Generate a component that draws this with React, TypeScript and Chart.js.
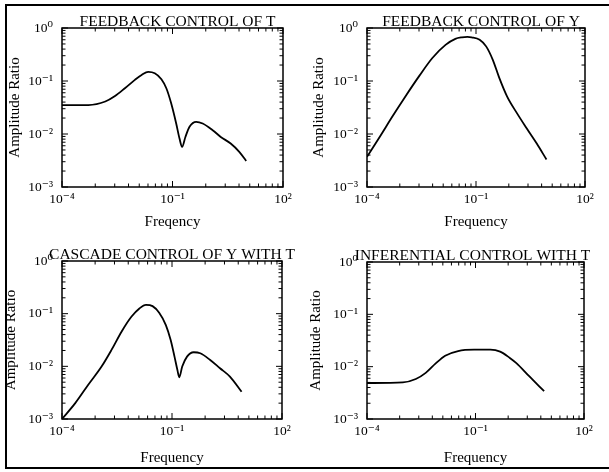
import React, { useEffect, useRef } from "react";
import { Chart, registerables } from "chart.js";

Chart.register(...registerables);

// ---- axis tick labels ----
const xTickValues = [1e-4, 1e-1, 1e2];
const xTickLabels = ["10⁻⁴", "10⁻¹", "10²"];
const yTickValues = [1e-3, 1e-2, 1e-1, 1];
const yTickLabels = ["10⁻³", "10⁻²", "10⁻¹", "10⁰"];

// ---- panel titles ----
const panelTitles = [
  "FEEDBACK CONTROL OF T",
  "FEEDBACK CONTROL OF Y",
  "CASCADE CONTROL OF Y WITH T",
  "INFERENTIAL CONTROL WITH T",
];
const xAxisTitles = ["Freqency", "Frequency", "Frequency", "Frequency"];
const yAxisTitle = "Amplitude Ratio";

// ---- series ----
const fbTFreq = [1e-4, 5.2e-4, 1.5e-3, 2.75e-3, 5.1e-3, 9.5e-3, 0.0145, 0.022, 0.033, 0.05, 0.068, 0.092, 0.126, 0.155, 0.182, 0.224, 0.29, 0.44, 0.66, 1.23, 2.04, 3.8, 6.5, 10];
const fbTAmp = [0.0352, 0.0352, 0.041, 0.052, 0.073, 0.105, 0.13, 0.149, 0.14, 0.108, 0.073, 0.038, 0.0158, 0.0082, 0.0057, 0.0088, 0.0137, 0.017, 0.0158, 0.0118, 0.0088, 0.0066, 0.0046, 0.0031];

const fbYFreq = [1e-4, 2.3e-4, 5.2e-4, 1.2e-3, 2.75e-3, 6.3e-3, 0.0145, 0.027, 0.041, 0.058, 0.076, 0.126, 0.19, 0.29, 0.44, 0.72, 1.35, 2.5, 4.7, 8.7];
const fbYAmp = [0.0037, 0.0091, 0.0223, 0.054, 0.125, 0.272, 0.48, 0.625, 0.668, 0.682, 0.668, 0.6, 0.45, 0.251, 0.113, 0.0507, 0.0245, 0.0127, 0.0066, 0.0033];

const cascFreq = [1e-4, 2.3e-4, 5.2e-4, 1.2e-3, 2.24e-3, 4.2e-3, 7.8e-3, 0.0129, 0.0195, 0.0295, 0.0447, 0.068, 0.092, 0.117, 0.14, 0.158, 0.19, 0.257, 0.39, 0.59, 1.1, 2.04, 3.8, 7.9];
const cascAmp = [0.001, 0.002, 0.00447, 0.0099, 0.0205, 0.0455, 0.0873, 0.1256, 0.147, 0.139, 0.104, 0.0608, 0.0316, 0.0153, 0.0086, 0.0062, 0.0099, 0.0153, 0.0185, 0.0177, 0.0132, 0.0092, 0.0064, 0.0033];

const infFreq = [1e-4, 9.8e-4, 2.24e-3, 4.2e-3, 7.8e-3, 0.0145, 0.033, 0.092, 0.257, 0.48, 0.89, 1.35, 3.1, 7.9];
const infAmp = [0.00487, 0.005, 0.0058, 0.0076, 0.0114, 0.0162, 0.0199, 0.0211, 0.0211, 0.0194, 0.0147, 0.0117, 0.0065, 0.0034];

const seriesFreq = [fbTFreq, fbYFreq, cascFreq, infFreq];
const seriesAmp = [fbTAmp, fbYAmp, cascAmp, infAmp];

const SERIF = "'Liberation Serif', 'DejaVu Serif', 'Times New Roman', serif";

// layout of the four panels (page pixels)
const panelLayout = [
  { cl: 0, ct: 0, cw: 305, ch: 236, l: 62, t: 28, r: 283, b: 187, ytx: 15, tdx: 5 },
  { cl: 305, ct: 0, cw: 304, ch: 236, l: 367, t: 28, r: 585, b: 187, ytx: 319, tdx: 5 },
  { cl: 0, ct: 236, cw: 305, ch: 236, l: 62, t: 261, r: 282, b: 419, ytx: 11, tdx: 0 },
  { cl: 305, ct: 236, cw: 304, ch: 236, l: 367, t: 262, r: 584, b: 419, ytx: 316, tdx: -3 },
];

function makeDecor(title: string, tdx: number) {
  return {
    id: "decor" + title.replace(/\s/g, ""),
    afterDraw(chart: any) {
      const { ctx, chartArea } = chart;
      const { left, right, top, bottom } = chartArea;
      const xs = chart.scales.x;
      const ys = chart.scales.y;
      ctx.save();
      ctx.strokeStyle = "#000";
      ctx.lineWidth = 1;
      ctx.beginPath();
      const hTick = (v: number, len: number) => {
        const py = ys.getPixelForValue(v);
        ctx.moveTo(left, py);
        ctx.lineTo(left + len, py);
        ctx.moveTo(right, py);
        ctx.lineTo(right - len, py);
      };
      const vTick = (v: number, len: number) => {
        const px = xs.getPixelForValue(v);
        ctx.moveTo(px, bottom);
        ctx.lineTo(px, bottom - len);
        ctx.moveTo(px, top);
        ctx.lineTo(px, top + len);
      };
      for (let d = -3; d <= 0; d++) {
        hTick(Math.pow(10, d), 6);
        if (d < 0) {
          for (let k = 2; k <= 9; k++) hTick(k * Math.pow(10, d), 3.5);
        }
      }
      for (let i = 0; i < xTickValues.length; i++) {
        const a = xTickValues[i];
        vTick(a, 6);
        if (i < xTickValues.length - 1) {
          for (let k = 2; k <= 9; k++) vTick(a * k * k * k, 3.5);
        }
      }
      ctx.stroke();
      ctx.lineWidth = 1.5;
      ctx.strokeRect(left, top, right - left, bottom - top);
      ctx.fillStyle = "#000";
      ctx.font = `15.5px ${SERIF}`;
      ctx.textAlign = "center";
      ctx.textBaseline = "alphabetic";
      ctx.fillText(title, (left + right) / 2 + tdx, top - 2);
      ctx.restore();
    },
  };
}

function Panel({ idx }: { idx: number }) {
  const ref = useRef<HTMLCanvasElement | null>(null);
  const p = panelLayout[idx];
  useEffect(() => {
    if (!ref.current) return;
    const freq = seriesFreq[idx];
    const amp = seriesAmp[idx];
    const pl = p.ytx - p.cl - 9;
    const pb = 5;
    const yW = p.l - p.cl - pl;
    const xH = p.ct + p.ch - pb - p.b;
    const chart = new Chart(ref.current, {
      type: "line",
      data: {
        datasets: [
          {
            data: freq.map((f, i) => ({ x: f, y: amp[i] })),
            borderColor: "#000",
            borderWidth: 1.8,
            pointRadius: 0,
            fill: false,
            cubicInterpolationMode: "monotone",
          },
        ],
      },
      options: {
        animation: false,
        responsive: false,
        events: [],
        layout: {
          padding: {
            left: pl,
            top: p.t - p.ct,
            right: p.cl + p.cw - p.r,
            bottom: pb,
          },
        },
        plugins: { legend: { display: false }, tooltip: { enabled: false }, title: { display: false } },
        scales: {
          x: {
            type: "logarithmic",
            min: 1e-4,
            max: 1e2,
            grid: { display: false, drawTicks: false },
            border: { display: false },
            afterBuildTicks: (s: any) => {
              s.ticks = xTickValues.map((v) => ({ value: v }));
            },
            afterFit: (s: any) => {
              s.height = xH;
            },
            ticks: {
              autoSkip: false,
              maxRotation: 0,
              padding: 4,
              color: "#000",
              font: { family: SERIF, size: 13.5 },
              callback: (_v: any, i: number) => xTickLabels[i],
            },
            title: {
              display: true,
              text: xAxisTitles[idx],
              color: "#000",
              padding: 0,
              font: { family: SERIF, size: 15 },
            },
          },
          y: {
            type: "logarithmic",
            min: 1e-3,
            max: 1,
            grid: { display: false, drawTicks: false },
            border: { display: false },
            afterBuildTicks: (s: any) => {
              s.ticks = yTickValues.map((v) => ({ value: v }));
            },
            afterFit: (s: any) => {
              s.width = yW;
            },
            ticks: {
              autoSkip: false,
              padding: 9,
              color: "#000",
              font: { family: SERIF, size: 13.5 },
              callback: (_v: any, i: number) => yTickLabels[i],
            },
            title: {
              display: true,
              text: yAxisTitle,
              color: "#000",
              padding: 0,
              font: { family: SERIF, size: 15 },
            },
          },
        },
      },
      plugins: [makeDecor(panelTitles[idx], p.tdx)],
    } as any);
    return () => chart.destroy();
  }, []);
  return (
    <canvas
      ref={ref}
      width={p.cw}
      height={p.ch}
      style={{ position: "absolute", left: p.cl, top: p.ct, width: p.cw, height: p.ch, display: "block" }}
    />
  );
}

export default function App() {
  return (
    <div style={{ position: "absolute", left: 0, top: 0, width: 609, height: 472, background: "#fff", overflow: "hidden" }}>
      <div
        style={{
          position: "absolute",
          left: 5,
          top: 4,
          width: 606,
          height: 461,
          borderTop: "2px solid #000",
          borderLeft: "2px solid #000",
          borderBottom: "2px solid #000",
        }}
      />
      {[0, 1, 2, 3].map((i) => (
        <Panel key={i} idx={i} />
      ))}
    </div>
  );
}
